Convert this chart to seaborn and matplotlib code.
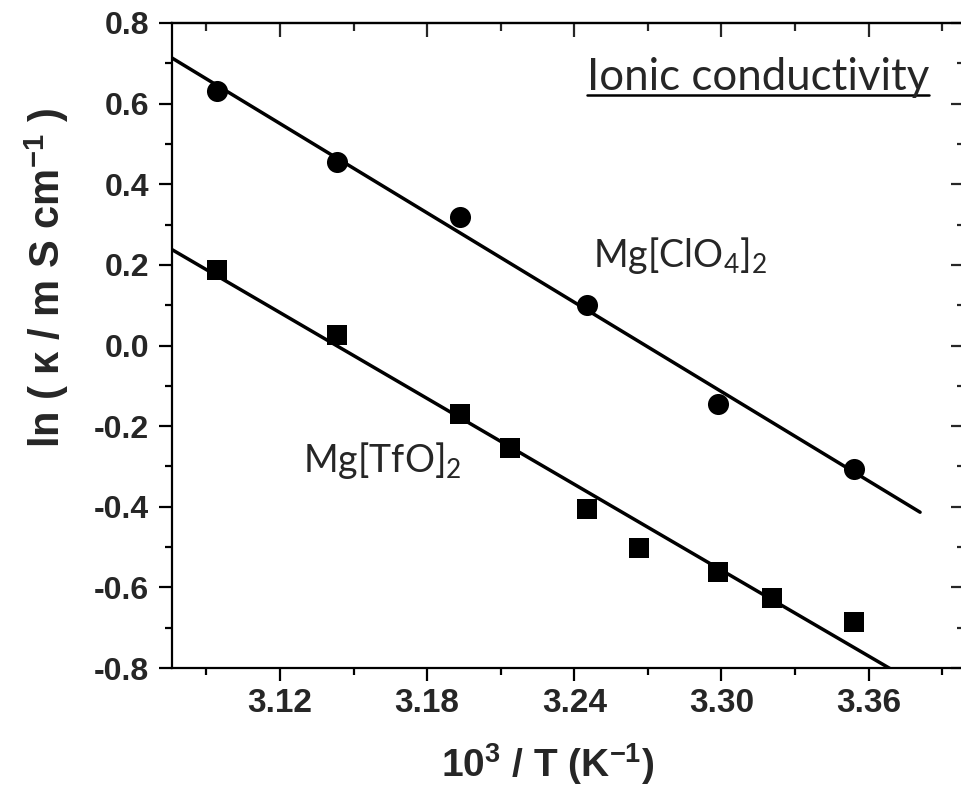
import numpy as np
import pandas as pd
import matplotlib.pyplot as plt
import seaborn as sns
from matplotlib.ticker import MultipleLocator, FormatStrFormatter
from matplotlib.lines import Line2D

# 1000/T values (K^-1) and ln(kappa)
x_clo4 = [3.0945, 3.1432, 3.1934, 3.2452, 3.2987, 3.3540]
y_clo4 = [0.631, 0.455, 0.319, 0.100, -0.145, -0.306]

x_tfo = [3.0945, 3.1432, 3.1934, 3.2139, 3.2452, 3.2664, 3.2987, 3.3206, 3.3540]
y_tfo = [0.187, 0.026, -0.170, -0.254, -0.405, -0.502, -0.562, -0.626, -0.686]

fit_range = [3.076, 3.381]

sns.set_style('ticks')
plt.rcParams['font.family'] = ['Liberation Sans', 'DejaVu Sans']
plt.rcParams['axes.unicode_minus'] = False
plt.rcParams['mathtext.fontset'] = 'custom'
plt.rcParams['mathtext.rm'] = 'Lato'
plt.rcParams['mathtext.it'] = 'Lato:italic'
plt.rcParams['mathtext.bf'] = 'Liberation Sans:bold'

fig = plt.figure(figsize=(9.61, 7.86), dpi=100)
ax = fig.add_axes([172/961, 1-668/786, (963-172)/961, (668-23)/786])

# linear fits
for xs, ys in [(x_clo4, y_clo4), (x_tfo, y_tfo)]:
    k, b = np.polyfit(xs, ys, 1)
    lx = np.array(fit_range)
    sns.lineplot(x=lx, y=k*lx+b, color='black', lw=2.5, ax=ax)

sns.scatterplot(x=x_clo4, y=y_clo4, marker='o', s=230, color='black', linewidth=0, ax=ax, zorder=3)
sns.scatterplot(x=x_tfo, y=y_tfo, marker='s', s=190, color='black', linewidth=0, ax=ax, zorder=3)

ax.set_xlim(3.076, 3.3985)
ax.set_ylim(-0.8, 0.8)
ax.xaxis.set_major_locator(MultipleLocator(0.06))
ax.xaxis.set_minor_locator(MultipleLocator(0.03))
ax.yaxis.set_major_locator(MultipleLocator(0.2))
ax.yaxis.set_minor_locator(MultipleLocator(0.1))
ax.xaxis.set_major_formatter(FormatStrFormatter('%.2f'))
ax.yaxis.set_major_formatter(FormatStrFormatter('%.1f'))

for s in ax.spines.values():
    s.set_linewidth(1.6)
    s.set_color('black')

ax.tick_params(which='both', direction='out', width=1.6, color='black')
ax.tick_params(which='major', length=9.5)
ax.tick_params(which='minor', length=5)
ax.tick_params(axis='x', which='major', labelsize=24, pad=5)
ax.tick_params(axis='y', which='major', labelsize=23, pad=7)
for lab in ax.get_xticklabels() + ax.get_yticklabels():
    lab.set_fontweight('bold')

# inward ticks on top and right
top = ax.secondary_xaxis('top')
top.xaxis.set_major_locator(MultipleLocator(0.06))
top.xaxis.set_minor_locator(MultipleLocator(0.03))
top.tick_params(which='both', direction='in', width=1.6, labeltop=False)
top.tick_params(which='major', length=10)
top.tick_params(which='minor', length=5.5)
top.spines['top'].set_linewidth(1.6)

right = ax.secondary_yaxis('right')
right.yaxis.set_major_locator(MultipleLocator(0.2))
right.yaxis.set_minor_locator(MultipleLocator(0.1))
right.tick_params(which='both', direction='in', width=1.6, labelright=False)
right.tick_params(which='major', length=9)
right.tick_params(which='minor', length=4.5)

ax.set_xlabel(r'10$^{\mathbf{3}}$ / T (K$^{\mathbf{-1}}$)', fontsize=28, fontweight='bold')
ax.set_ylabel(r'ln ( κ / m S cm$^{\mathbf{-1}}$ )', fontsize=30, fontweight='bold')
ax.xaxis.set_label_coords(0.475, -0.114)
ax.yaxis.set_label_coords(-0.128, 0.605)

# annotations
title = fig.text(587/961, 1-90/786, 'Ionic conductivity', fontsize=31.5,
                 family='Lato', va='baseline', ha='left')
fig.text(593/961, 1-267/786, r'Mg[ClO$_4$]$_2$', fontsize=27,
         family='Lato', va='baseline', ha='left')
fig.text(303/961, 1-472/786, r'Mg[TfO]$_2$', fontsize=27,
         family='Lato', va='baseline', ha='left')

fig.canvas.draw()
bb = title.get_window_extent()
inv = fig.transFigure.inverted()
(x0, _), (x1, _) = inv.transform([(bb.x0, 0), (bb.x1, 0)])
uy = 1 - 95/786
fig.add_artist(Line2D([x0, x1], [uy, uy], color='black', lw=1.8,
                      transform=fig.transFigure))

fig.savefig('out.png', dpi=100)
